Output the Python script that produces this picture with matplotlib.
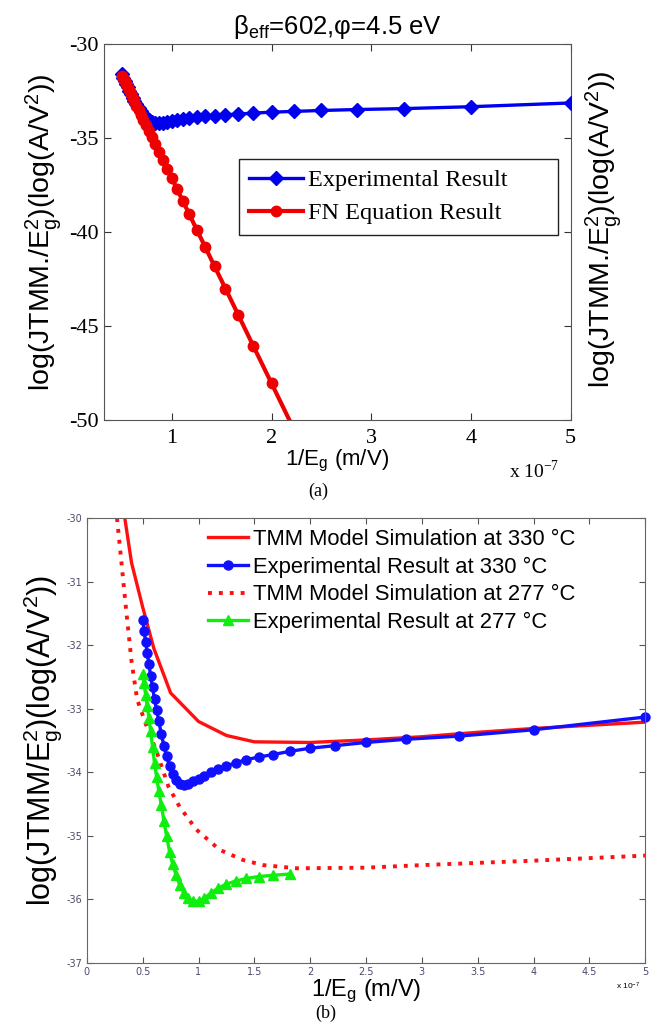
import matplotlib
matplotlib.use('Agg')
import matplotlib.pyplot as plt

plt.rcParams['mathtext.fontset'] = 'custom'
plt.rcParams['mathtext.rm'] = 'Liberation Sans'
plt.rcParams['mathtext.it'] = 'Liberation Sans:italic'
plt.rcParams['axes.unicode_minus'] = False

SANS = 'Liberation Sans'
SERIF = 'Liberation Serif'

# 1/E_g sample points (x 1e-7 m/V), shared by the measured series
inv_field = [0.500, 0.513, 0.526, 0.541, 0.556, 0.571, 0.588, 0.606, 0.625,
             0.645, 0.667, 0.690, 0.714, 0.741, 0.769, 0.800, 0.833, 0.870,
             0.909, 0.952, 1.000, 1.053, 1.111, 1.176, 1.250, 1.333, 1.429,
             1.538, 1.667, 1.818, 2.000, 2.222, 2.500, 2.857, 3.333, 4.000,
             5.000]

# measured log(J/E^2) at 330 C
exp_330 = [-31.60, -31.78, -31.95, -32.12, -32.30, -32.48, -32.66, -32.85,
           -33.02, -33.20, -33.40, -33.58, -33.75, -33.90, -34.02, -34.12,
           -34.18, -34.20, -34.18, -34.14, -34.10, -34.05, -34.00, -33.95,
           -33.90, -33.85, -33.80, -33.76, -33.72, -33.67, -33.62, -33.58,
           -33.53, -33.48, -33.43, -33.33, -33.13]

# Fowler-Nordheim prediction, beta_eff = 602, phi = 4.5 eV
fn_inv_field = inv_field[:33]
fn_result = [-31.69, -31.83, -31.97, -32.14, -32.30, -32.46, -32.65, -32.85,
             -33.05, -33.27, -33.51, -33.76, -34.02, -34.31, -34.62, -34.96,
             -35.32, -35.72, -36.15, -36.62, -37.14, -37.72, -38.35, -39.06,
             -39.87, -40.77, -41.82, -43.00, -44.41, -46.06, -48.04, -50.46,
             -53.49]

# measured log(J/E^2) at 277 C
exp_277_inv_field = inv_field[:30]
exp_277 = [-32.45, -32.60, -32.78, -32.95, -33.15, -33.35, -33.60, -33.85,
           -34.08, -34.30, -34.52, -34.76, -35.00, -35.25, -35.45, -35.62,
           -35.78, -35.90, -35.98, -36.03, -36.03, -35.98, -35.90, -35.82,
           -35.76, -35.71, -35.67, -35.64, -35.62, -35.60]

# TMM model curves
tmm_330_x = [0.34, 0.40, 0.50, 0.60, 0.75, 1.00, 1.25, 1.50, 2.00, 2.50,
             3.00, 3.50, 4.00, 4.50, 5.00]
tmm_330_y = [-30.00, -30.70, -31.40, -32.05, -32.75, -33.20, -33.42, -33.52,
             -33.53, -33.49, -33.44, -33.37, -33.31, -33.26, -33.21]
tmm_277_x = [0.27, 0.31, 0.355, 0.40, 0.45, 0.53, 0.62, 0.73, 0.83, 0.98,
             1.19, 1.40, 1.58, 1.88, 2.50, 3.00, 4.00, 5.00]
tmm_277_y = [-30.00, -30.70, -31.50, -32.25, -32.85, -33.25, -33.65, -34.22,
             -34.54, -34.90, -35.22, -35.38, -35.46, -35.51, -35.50, -35.46,
             -35.39, -35.31]

ylabel_a = r'log(JTMM./E$_\mathregular{g}^\mathregular{2}$)(log(A/V$^\mathregular{2}$))'
ylabel_b = r'log(JTMM/E$_\mathregular{g}^\mathregular{2}$)(log(A/V$^\mathregular{2}$))'
xlabel = r'1/E$_\mathregular{g}$ (m/V)'

fig = plt.figure(figsize=(6.53, 10.25), dpi=100)

# ---- panel (a): experiment vs FN equation ----
ax1 = fig.add_axes([0.159, 0.590, 0.715, 0.367])
ax1.plot(inv_field, exp_330, color='#0000ee', lw=2.4, marker='D',
         markersize=7, label='Experimental Result', zorder=3)
ax1.plot(fn_inv_field, fn_result, color='#ee0000', lw=3.0, marker='o',
         markersize=7.5, label='FN Equation Result', zorder=4)
ax1.set_xlim(0.318, 5)
ax1.set_ylim(-50, -30)
ax1.set_xticks([1, 2, 3, 4, 5])
ax1.set_yticks([-50, -45, -40, -35, -30])
ax1.tick_params(direction='in', top=True, right=True, length=5,
                labelsize=16, colors='#333333', pad=4)
ax1.tick_params(axis='x', pad=6)
for lbl in ax1.get_xticklabels() + ax1.get_yticklabels():
    lbl.set_family(SERIF)
    lbl.set_color('black')
for sp in ax1.spines.values():
    sp.set_color('#555555')
ax1.set_xlabel(xlabel, family=SANS, fontsize=16, labelpad=0)
ax1.set_ylabel(ylabel_a, family=SANS, fontsize=20.5, labelpad=3)
ax1.set_title(r'β$_\mathregular{eff}$=602,φ=4.5 eV', family=SANS,
              fontsize=18.5, pad=7)
fig.text(0.925, 0.776, ylabel_a, family=SANS, fontsize=20.5,
         rotation=90, ha='center', va='center')
fig.text(0.78, 0.541, r'x 10$^{\mathregular{-7}}$', family=SERIF,
         fontsize=14, ha='left', va='center')
fig.text(0.487, 0.521, '(a)', family=SERIF, fontsize=13,
         ha='center', va='center')
leg1 = ax1.legend(loc='upper left', bbox_to_anchor=(0.290, 0.694, 0.683, 0.0),
                  mode='expand', prop={'family': SERIF, 'size': 17.5},
                  handlelength=2.2, handletextpad=0.2, borderpad=0.42,
                  labelspacing=0.45, fancybox=False, framealpha=1,
                  borderaxespad=0)
leg1.get_frame().set_edgecolor('#222222')
leg1.get_frame().set_linewidth(1.0)

# ---- panel (b): TMM model vs experiment at two temperatures ----
ax2 = fig.add_axes([0.133, 0.0605, 0.855, 0.434])
ax2.plot(tmm_330_x, tmm_330_y, color='#ff1010', lw=2.4,
         label='TMM Model Simulation at 330 \u00b0C')
ax2.plot(inv_field, exp_330, color='#1010ff', lw=2.4, marker='o',
         markersize=6.5, label='Experimental Result at 330 \u00b0C',
         clip_on=False)
ax2.plot(tmm_277_x, tmm_277_y, color='#ff1010', lw=2.8,
         linestyle=(0, (1.0, 1.8)), label='TMM Model Simulation at 277 \u00b0C')
ax2.plot(exp_277_inv_field, exp_277, color='#10ee10', lw=2.4, marker='^',
         markersize=7.5, label='Experimental Result at 277 \u00b0C')
ax2.set_xlim(0, 5)
ax2.set_ylim(-37, -30)
ax2.set_xticks([0, 0.5, 1, 1.5, 2, 2.5, 3, 3.5, 4, 4.5, 5])
ax2.set_xticklabels(['0', '0.5', '1', '1.5', '2', '2.5', '3', '3.5', '4',
                     '4.5', '5'])
ax2.set_yticks(range(-37, -29))
ax2.tick_params(direction='in', top=True, right=True, length=4,
                labelsize=7, labelcolor='#4a4a6a', colors='#555555', pad=3)
for sp in ax2.spines.values():
    sp.set_color('#666666')
ax2.set_xlabel(xlabel, family=SANS, fontsize=17, labelpad=0)
ax2.set_ylabel(ylabel_b, family=SANS, fontsize=22, labelpad=2)
fig.text(0.962, 0.038, r'x 10$^{\mathregular{-7}}$', family=SANS,
         fontsize=6, ha='center', va='center')
fig.text(0.499, 0.011, '(b)', family=SERIF, fontsize=13,
         ha='center', va='center')
ax2.legend(loc='upper left', bbox_to_anchor=(0.205, 0.99), frameon=False,
           prop={'family': SANS, 'size': 15.8}, handlelength=1.82,
           handletextpad=0.25, labelspacing=0.3, borderpad=0.3,
           borderaxespad=0)

fig.savefig('out.png', dpi=100)
